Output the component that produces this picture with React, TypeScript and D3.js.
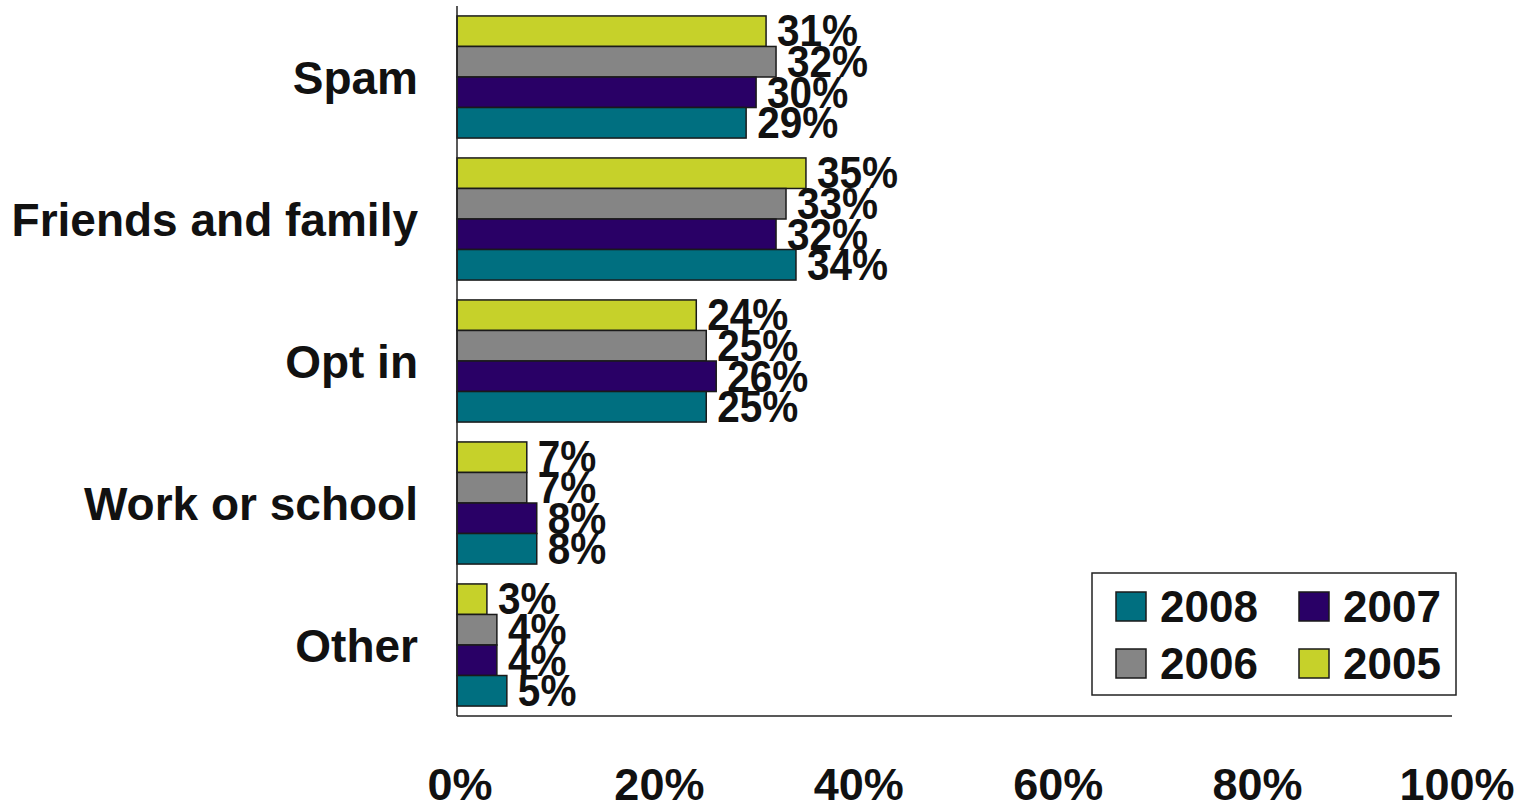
import React from "react";
import * as d3 from "d3";

const categories = ["Spam", "Friends and family", "Opt in", "Work or school", "Other"];
const years = ["2005", "2006", "2007", "2008"];
const values2005 = [31, 35, 24, 7, 3];
const values2006 = [32, 33, 25, 7, 4];
const values2007 = [30, 32, 26, 8, 4];
const values2008 = [29, 34, 25, 8, 5];
const xTicks = [0, 20, 40, 60, 80, 100];
const legendOrder = ["2008", "2007", "2006", "2005"];

const seriesValues: Record<string, number[]> = {
  "2005": values2005,
  "2006": values2006,
  "2007": values2007,
  "2008": values2008,
};
const colors: Record<string, string> = {
  "2005": "#C6D12A",
  "2006": "#858585",
  "2007": "#290066",
  "2008": "#006F80",
};

const W = 1519;
const H = 806;
const left = 457;
const right = 1454;
const top = 6;
const bottom = 716;
const font = "'Liberation Sans', Arial, Helvetica, sans-serif";
const ink = "#111";

export default function App() {
  const x = d3.scaleLinear().domain([0, 100]).range([left, right]);
  const y = d3.scaleBand<string>().domain(categories).range([top, bottom]).paddingInner(0.14).paddingOuter(0.07);
  const yInner = d3.scaleBand<string>().domain(years).range([0, y.bandwidth()]).padding(0);

  return (
    <svg width={W} height={H} style={{ position: "absolute", left: 0, top: 0, background: "#fff" }}>
      {categories.map((c, i) => (
        <g key={c} transform={`translate(0,${y(c)})`}>
          {years.map((yr) => {
            const v = seriesValues[yr][i];
            const by = yInner(yr)!;
            return (
              <rect
                key={yr}
                x={x(0)}
                y={by}
                width={x(v) - x(0)}
                height={yInner.bandwidth()}
                fill={colors[yr]}
                stroke="#1a1a1a"
                strokeWidth={1.5}
              />
            );
          })}
        </g>
      ))}
      {categories.map((c, i) => (
        <g key={c + "-lab"} transform={`translate(0,${y(c)})`}>
          {years.map((yr) => {
            const v = seriesValues[yr][i];
            const by = yInner(yr)!;
            return (
              <text
                key={yr}
                transform={`translate(${x(v) + 11},${by + yInner.bandwidth()}) scale(0.9,1)`}
                fontFamily={font}
                fontWeight="bold"
                fontSize={45}
                fill={ink}
              >
                {v}%
              </text>
            );
          })}
          <text
            x={418}
            y={y.bandwidth() / 2}
            dy="0.36em"
            textAnchor="end"
            fontFamily={font}
            fontWeight="bold"
            fontSize={46}
            fill={ink}
          >
            {c}
          </text>
        </g>
      ))}
      <line x1={left} x2={left} y1={top} y2={bottom} stroke="#222" strokeWidth={1.5} />
      <line x1={left} x2={right - 2} y1={bottom} y2={bottom} stroke="#222" strokeWidth={1.5} />
      {xTicks.map((t) => (
        <text
          key={t}
          x={x(t) + 3}
          y={800}
          textAnchor="middle"
          fontFamily={font}
          fontWeight="bold"
          fontSize={45}
          fill={ink}
        >
          {t}%
        </text>
      ))}
      <g>
        <rect x={1092} y={573} width={364} height={122} fill="#fff" stroke="#222" strokeWidth={1.5} />
        {legendOrder.map((yr, k) => {
          const col = k % 2;
          const row = Math.floor(k / 2);
          const sx = 1116 + col * 183;
          const sy = 592 + row * 57;
          return (
            <g key={yr}>
              <rect x={sx} y={sy} width={30} height={29} fill={colors[yr]} stroke="#1a1a1a" strokeWidth={1.5} />
              <text x={sx + 44} y={sy + 30} fontFamily={font} fontWeight="bold" fontSize={44} fill={ink}>
                {yr}
              </text>
            </g>
          );
        })}
      </g>
    </svg>
  );
}
